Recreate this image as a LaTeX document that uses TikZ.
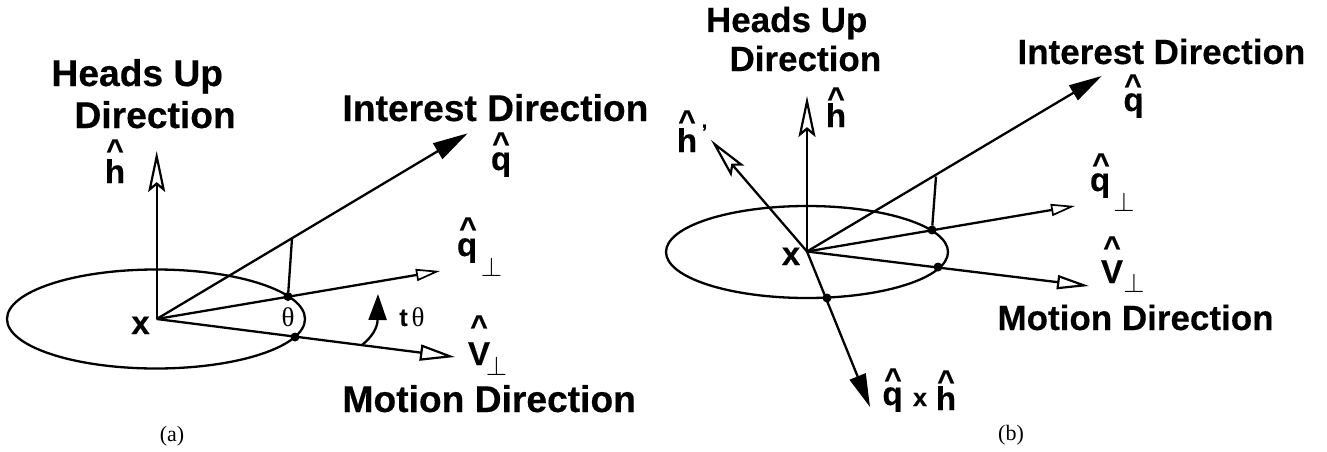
\documentclass[tikz,border=0pt]{standalone}
\usepackage{fontspec}
\usepackage{graphicx}
\setmainfont{Liberation Sans}[BoldFeatures={FakeBold=0.35}]
\newfontfamily\serifface{Liberation Serif}
\usetikzlibrary{arrows.meta}
\newcommand{\hatglyph}{\raisebox{-6pt}[11.5pt][0pt]{\textasciicircum}}
\newcommand{\perpglyph}{\scalebox{1.1}{$\perp$}}
\tikzset{
  x=1pt,y=-1pt,
  every node/.style={inner sep=0pt,outer sep=0pt,text=black},
  axis/.style={line width=2.3pt,line join=miter},
  hollowbarb/.style={-{Stealth[length=41pt,width=17pt,inset=7pt,fill=white,line width=2.2pt]}},
  solidbarbA/.style={-{Triangle[length=35pt,width=18pt,fill=black]}},
  solidbarbB/.style={-{Triangle[length=33pt,width=17pt,fill=black]}},
  openA/.style={-{Triangle[length=24pt,width=12pt,fill=white,line width=1.7pt]}},
  openB/.style={-{Triangle[length=35pt,width=16pt,fill=white,line width=2.2pt]}},
  openC/.style={-{Triangle[length=32pt,width=14pt,fill=white,line width=2.2pt]}},
  turn/.style={-{Triangle[length=26pt,width=18pt,fill=black]}},
  dot/.style={circle,fill=black,minimum size=9pt},
  titleA/.style={anchor=base west,font=\bfseries\fontsize{37.2}{40}\selectfont},
  titleB/.style={anchor=base west,font=\bfseries\fontsize{35}{38}\selectfont},
  letter/.style={anchor=base,font=\bfseries\fontsize{33}{36}\selectfont},
  hatmark/.style={anchor=base,font=\bfseries\fontsize{30}{32}\selectfont},
  perpmark/.style={anchor=center,font=\fontsize{24}{26}\selectfont},
  greek/.style={anchor=base,font=\serifface\fontsize{27}{30}\selectfont},
  smallbold/.style={anchor=base,font=\bfseries\fontsize{25}{28}\selectfont},
  caption/.style={anchor=base,font=\serifface\fontsize{22}{26}\selectfont},
}
\begin{document}
\begin{tikzpicture}
\useasboundingbox (0,0) rectangle (1327,452);
% ---------- (a) ----------
\coordinate (oa) at (156.7,319);
\coordinate (hta) at (156.7,151);
\coordinate (ita) at (467.7,133.3);
\coordinate (qta) at (440,271);
\coordinate (vta) at (455,357);
\coordinate (fta) at (292,238.5);
\coordinate (turnsa) at (362,345);
\coordinate (turnta) at (378,294);
\draw[axis] (156,319) ellipse [x radius=149,y radius=49.5];
\node[dot] (da1) at (288,296.5) {};
\node[dot] (da2) at (295,337) {};
\draw[axis,hollowbarb] (oa) -- (hta);
\draw[axis,solidbarbA] (oa) -- (ita);
\draw[axis,openA] (oa) -- (qta);
\draw[axis,openB] (oa) -- (vta);
\draw[axis] (fta) -- (da1);
\draw[axis,turn] (turnsa) .. controls (372,337) and (377.5,328) .. (turnta);
\node[titleA] (ha1) at (51.5,86) {Heads Up};
\node[titleA] (ha2) at (74.5,128) {Direction};
\node[titleA] (ia) at (342.5,121) {Interest Direction};
\node[titleA] (ma) at (342.5,412) {Motion Direction};
\node[letter] (ha) at (115,183) {h};
\node[hatmark] (hha) at (115,154) {\hatglyph};
\node[letter] (qa) at (501,170) {q};
\node[hatmark] (hqa) at (501,147) {\hatglyph};
\node[letter] (qpa) at (467,256) {q};
\node[hatmark] (hqpa) at (468,232) {\hatglyph};
\node[perpmark] (pqa) at (491.5,267) {\perpglyph};
\node[letter] (va) at (479,365) {V};
\node[hatmark] (hva) at (479,330) {\hatglyph};
\node[perpmark] (pva) at (496.5,366) {\perpglyph};
\node[letter] (xa) at (140.5,334) {x};
\node[greek] (tha) at (288,326) {θ};
\node[smallbold] (ta) at (403.5,326) {t};
\node[greek] (thb) at (418,326) {θ};
\node[caption] (capa) at (172,441) {(a)};
% ---------- (b) ----------
\coordinate (ob) at (807,251.5);
\coordinate (htb) at (807,96);
\coordinate (hpb) at (711,140);
\coordinate (itb) at (1101.7,76);
\coordinate (qtb) at (1075,206);
\coordinate (vtb) at (1089,286);
\coordinate (xtb) at (870,407);
\coordinate (ftb) at (936,176.5);
\draw[axis] (807,252) ellipse [x radius=141,y radius=46];
\node[dot] (db1) at (932,230) {};
\node[dot] (db2) at (938,267) {};
\node[dot] (db3) at (827,298) {};
\draw[axis,hollowbarb] (ob) -- (htb);
\draw[axis,hollowbarb] (ob) -- (hpb);
\draw[axis,solidbarbB] (ob) -- (itb);
\draw[axis,openA] (ob) -- (qtb);
\draw[axis,openC] (ob) -- (vtb);
\draw[axis,solidbarbB] (ob) -- (xtb);
\draw[axis] (ftb) -- (db1);
\node[titleB] (hb1) at (706,32) {Heads Up};
\node[titleB] (hb2) at (729.5,71) {Direction};
\node[titleB] (ib) at (1017.5,64) {Interest Direction};
\node[titleB] (mb) at (997.5,330) {Motion Direction};
\node[letter] (hb) at (836,127) {h};
\node[hatmark] (hhb) at (836,102) {\hatglyph};
\node[letter] (hpl) at (687,152) {h};
\node[hatmark] (hhpl) at (687,125) {\hatglyph};
\node[anchor=base,font=\bfseries\fontsize{20}{24}\selectfont] (prb) at (704.5,127.5) {,};
\node[letter] (qb) at (1133.5,111) {q};
\node[hatmark] (hqb) at (1133,89) {\hatglyph};
\node[letter] (qpb) at (1100,191) {q};
\node[hatmark] (hqpb) at (1101,168) {\hatglyph};
\node[perpmark] (pqb) at (1124,201.5) {\perpglyph};
\node[letter] (vb) at (1112,283) {V};
\node[hatmark] (hvb) at (1112,251) {\hatglyph};
\node[perpmark] (pvb) at (1134,283) {\perpglyph};
\node[letter] (xb) at (791,265) {x};
\node[letter] (qxq) at (892.5,405) {q};
\node[hatmark] (hqxq) at (893,383) {\hatglyph};
\node[smallbold] (qxx) at (920,406) {x};
\node[letter] (qxh) at (946,410) {h};
\node[hatmark] (hqxh) at (946,385) {\hatglyph};
\node[caption] (capb) at (1011,440) {(b)};
\end{tikzpicture}
\end{document}
